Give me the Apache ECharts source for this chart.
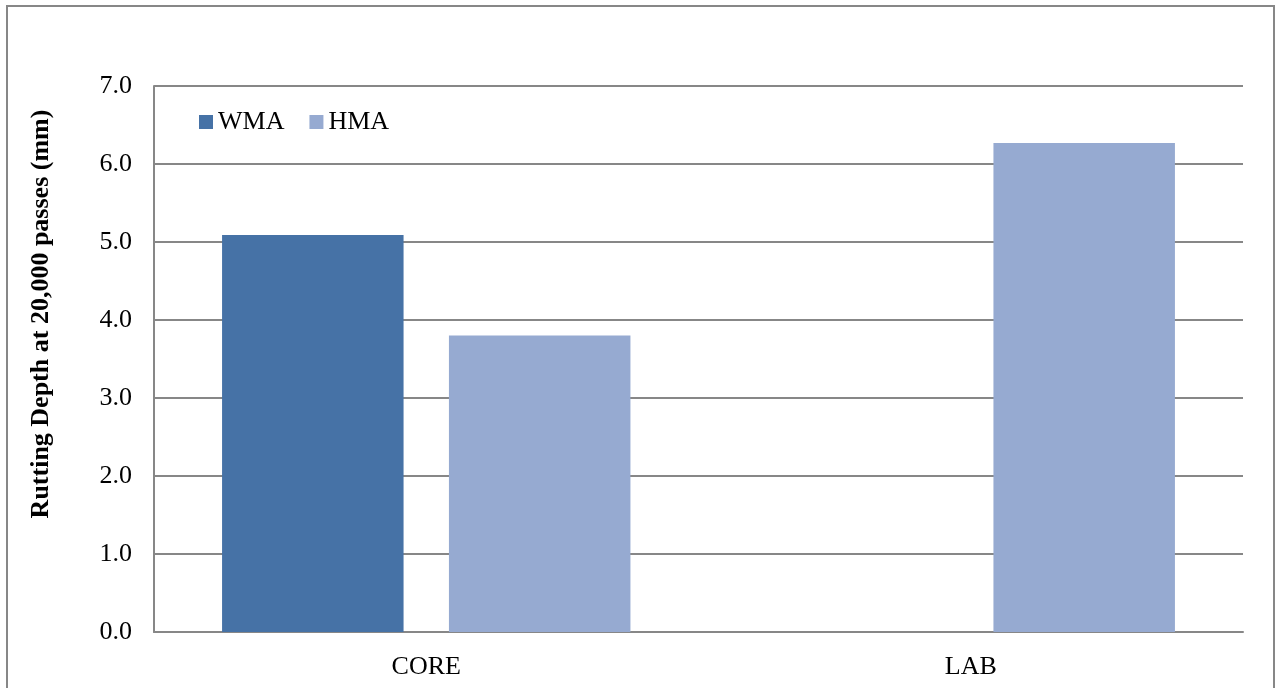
<!DOCTYPE html>
<html><head><meta charset="utf-8">
<script src="https://cdn.jsdelivr.net/npm/echarts@6/dist/echarts.min.js"></script>
<style>html,body{margin:0;padding:0;background:#fff}#c{width:1276px;height:688px}</style>
</head><body><div id="c"></div>
<script>
const categories = ['CORE', 'LAB'];
const seriesNames = ['WMA', 'HMA'];
const wmaValues = [5.09, null];
const hmaValues = [3.8, 6.27];
const yTicks = { min: 0, max: 7, interval: 1 };
const yTitle = 'Rutting Depth at 20,000 passes (mm)';

const font = 'Liberation Serif, Times New Roman, serif';
const chart = echarts.init(document.getElementById('c'));
chart.setOption({
  animation: false,
  backgroundColor: '#fff',
  textStyle: { fontFamily: font },
  graphic: [
    { type: 'rect', shape: { x: 7, y: 6, width: 1267, height: 700 }, style: { fill: 'none', stroke: '#878787', lineWidth: 2 }, silent: true },
    { type: 'text', x: 41, y: 314, rotation: Math.PI / 2, style: { text: yTitle, font: 'bold 26px ' + font, fill: '#000', textAlign: 'center', textVerticalAlign: 'middle' } }
  ],
  grid: { left: 154, right: 33, top: 86, bottom: 56 },
  legend: {
    left: 199, top: 109, padding: 0, itemWidth: 14, itemHeight: 14, itemGap: 25,
    icon: 'rect',
    textStyle: { fontFamily: font, fontSize: 26, color: '#000' },
    data: seriesNames
  },
  xAxis: {
    type: 'category', data: categories,
    axisLine: { lineStyle: { color: '#878787', width: 2 } },
    axisTick: { show: false },
    axisLabel: { fontFamily: font, fontSize: 26, color: '#000', margin: 22 }
  },
  yAxis: {
    type: 'value', min: yTicks.min, max: yTicks.max, interval: yTicks.interval,
    axisLine: { show: true, lineStyle: { color: '#878787', width: 2 } },
    axisTick: { show: false },
    splitLine: { lineStyle: { color: '#878787', width: 2 } },
    axisLabel: { fontFamily: font, fontSize: 26, color: '#000', margin: 22, formatter: v => v.toFixed(1) }
  },
  series: [
    { name: seriesNames[0], type: 'bar', data: wmaValues, barGap: '25%', barCategoryGap: '25%', itemStyle: { color: '#4672A6' } },
    { name: seriesNames[1], type: 'bar', data: hmaValues, itemStyle: { color: '#96AAD1' } }
  ]
});
</script></body></html>
